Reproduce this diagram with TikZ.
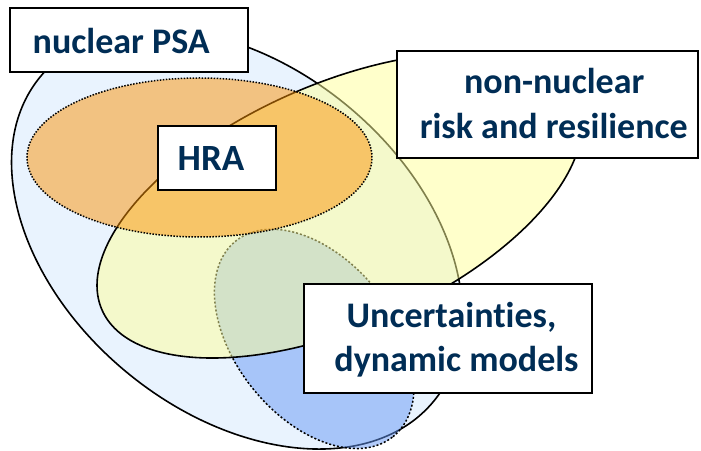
\documentclass[tikz,border=0pt]{standalone}
\usepackage{fontspec}
\setmainfont{Carlito}[Ligatures={NoCommon,NoContextual}]
\definecolor{psablue}{RGB}{233,243,254}
\definecolor{nnyellow}{RGB}{255,255,153}
\definecolor{hraorange}{RGB}{251,147,6}
\definecolor{ucblue}{RGB}{103,153,246}
\definecolor{txtblue}{RGB}{0,45,85}
\tikzset{
  boxnode/.style={draw=black, fill=white, line width=2pt, rectangle, inner sep=0pt},
  lbl/.style={text=txtblue, font=\fontsize{36}{40}\selectfont\bfseries, inner sep=0pt, anchor=base},
  outline/.style={draw=black, line width=1.6pt},
  dotline/.style={draw=black, line width=1.5pt, dash pattern=on 1.5pt off 1.5pt},
}
\begin{document}
\begin{tikzpicture}[x=1pt,y=1pt]
\useasboundingbox (0,0) rectangle (701,450);
\fill[white] (0,0) rectangle (701,450);
% nuclear PSA region
\path[outline, fill=psablue, rotate around={-39.5:(237,211)}] (237,211) ellipse [x radius=255pt, y radius=173pt];
% uncertainties region
\path[dotline, fill=ucblue, fill opacity=0.5, dash pattern=on 2pt off 2pt, rotate around={-51.2:(314.3,111.1)}] (314.3,111.1) ellipse [x radius=125.5pt, y radius=79pt];
% non-nuclear region
\path[outline, fill=nnyellow, fill opacity=0.5, rotate around={23.8:(339.4,244.6)}] (339.4,244.6) ellipse [x radius=259.4pt, y radius=121.4pt];
% HRA region
\path[dotline, fill=hraorange, fill opacity=0.5] (199.5,292.5) ellipse [x radius=172.5pt, y radius=79.5pt];
% boxes
\node[boxnode, minimum width=238pt, minimum height=63.4pt] (psabox) at (129.3,410) {};
\node[lbl] (psa) at (121.2,396.7) {nuclear PSA};
\node[boxnode, minimum width=118pt, minimum height=64pt] (hrabox) at (216.7,292) {};
\node[lbl, font=\fontsize{37}{40}\selectfont\bfseries] (hra) at (211,279) {HRA};
\node[boxnode, minimum width=301pt, minimum height=107pt] (nnbox) at (547.5,345.5) {};
\node[lbl] (nn1) at (554.2,356.7) {non-nuclear};
\node[lbl] (nn2) at (553.8,311.7) {risk and resilience};
\node[boxnode, minimum width=288pt, minimum height=108.7pt] (ucbox) at (448.3,111.35) {};
\node[lbl] (uc1) at (451.5,122.7) {Uncertainties,};
\node[lbl] (uc2) at (456.5,78.3) {dynamic models};
\end{tikzpicture}
\end{document}
